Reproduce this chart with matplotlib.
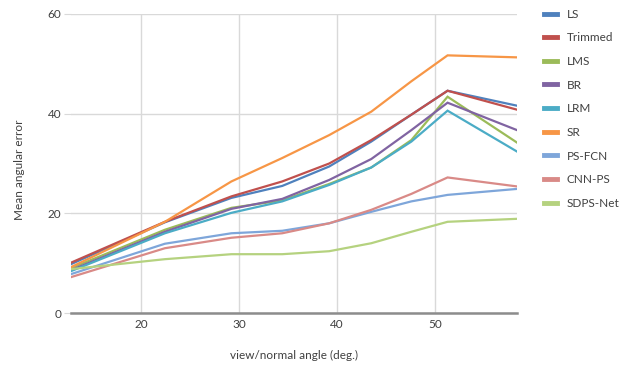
import matplotlib
matplotlib.use("Agg")
import matplotlib.pyplot as plt

plt.rcParams['font.family'] = ['Lato', 'DejaVu Sans']

angles = [12.8, 22.4, 29.2, 34.4, 39.2, 43.5, 47.6, 51.3, 58.4]
series_names = ["LS", "Trimmed", "LMS", "BR", "LRM", "SR", "PS-FCN", "CNN-PS", "SDPS-Net"]
ls_err       = [9.8, 18.2, 23.1, 25.5, 29.4, 34.4, 39.8, 44.6, 41.6]
trimmed_err  = [10.1, 18.3, 23.4, 26.4, 30.0, 34.7, 39.8, 44.6, 40.8]
lms_err      = [9.0, 16.7, 21.1, 22.6, 25.9, 29.2, 34.7, 43.4, 34.2]
br_err       = [8.6, 16.3, 20.9, 22.9, 26.7, 30.9, 36.7, 42.2, 36.7]
lrm_err      = [8.4, 16.0, 20.1, 22.4, 25.7, 29.2, 34.4, 40.6, 32.4]
sr_err       = [9.2, 18.3, 26.4, 31.1, 35.7, 40.4, 46.5, 51.7, 51.3]
psfcn_err    = [7.8, 13.9, 16.0, 16.5, 18.0, 20.3, 22.4, 23.7, 24.9]
cnnps_err    = [7.2, 13.0, 15.1, 16.0, 18.0, 20.7, 23.9, 27.2, 25.4]
sdps_err     = [8.8, 10.8, 11.8, 11.8, 12.4, 14.0, 16.3, 18.3, 18.9]
y_ticks = [0, 20, 40, 60]
x_ticks = [20, 30, 40, 50]

all_series = [ls_err, trimmed_err, lms_err, br_err, lrm_err, sr_err, psfcn_err, cnnps_err, sdps_err]
colors = ["#4F81BD", "#C0504D", "#9BBB59", "#8064A2", "#4BACC6", "#F79646",
          "#7EA6DA", "#D98A87", "#B5D27F"]

W, H = 622, 367
fig = plt.figure(figsize=(W / 100, H / 100), dpi=100)
ax = fig.add_axes([71 / W, (H - 313) / H, 446 / W, 299 / H])

handles = []
for name, vals, c in zip(series_names, all_series, colors):
    h, = ax.plot(angles, vals, color=c, lw=1.6, label=name, solid_joinstyle='miter')
    handles.append(h)

ax.set_xlim(angles[0], angles[-1])
ax.set_ylim(0, 60)
ax.set_xticks(x_ticks)
ax.set_yticks(y_ticks)
ax.grid(True, color="#D9D9D9", lw=1.0)
ax.set_axisbelow(True)
for s in ["top", "right", "left"]:
    ax.spines[s].set_visible(False)
ax.spines["bottom"].set_color("#8C8C8C")
ax.spines["bottom"].set_linewidth(1.8)
ax.tick_params(axis="y", length=5, color="#D9D9D9", labelsize=8.5, labelcolor="#404040", pad=2)
ax.tick_params(axis="x", length=0, labelsize=8.5, labelcolor="#404040", pad=4)

fig.text(20 / W, 1 - 170 / H, "Mean angular error", rotation=90, ha="center", va="center",
         fontsize=8.5, color="#404040")
fig.text(294 / W, 1 - 355 / H, "view/normal angle (deg.)", ha="center", va="center",
         fontsize=8.5, color="#404040")

leg = fig.legend(handles=handles, loc="upper left", bbox_to_anchor=(539 / W, 1 - 4 / H),
                 frameon=False, fontsize=8.5, handlelength=1.1, handletextpad=0.85,
                 labelspacing=1.07, borderaxespad=0)
for line in leg.get_lines():
    line.set_linewidth(3.5)
for t in leg.get_texts():
    t.set_color("#404040")

fig.savefig("out.png", dpi=100)
